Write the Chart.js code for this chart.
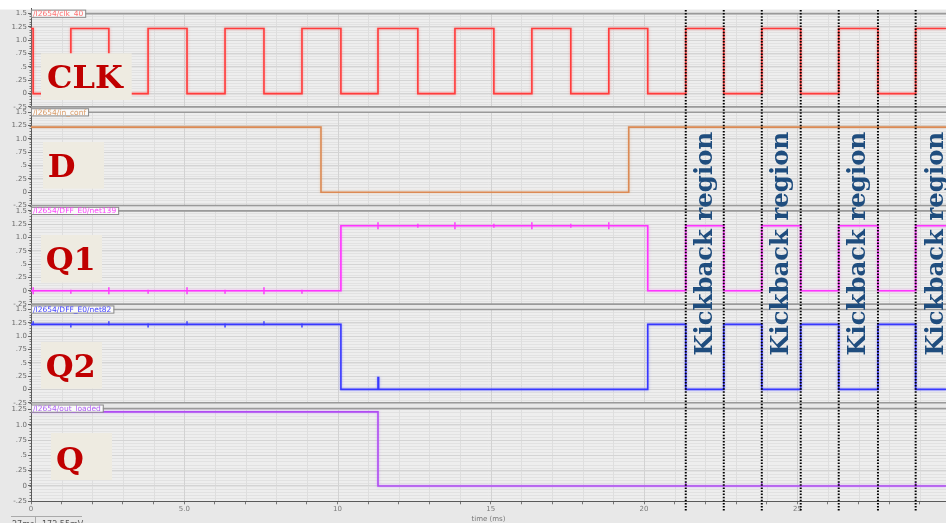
<!DOCTYPE html>
<html><head><meta charset="utf-8">
<script src="https://cdn.jsdelivr.net/npm/chart.js@4.4.1/dist/chart.umd.min.js"></script>
<style>
html,body{margin:0;padding:0;background:#fff;}
#wrap{position:relative;width:946px;height:523px;}
canvas{position:absolute;left:0;top:0;}
</style></head><body>
<div id="wrap"><canvas id="c" width="946" height="523"></canvas></div>
<script>
// ---------- data (times in ms, values in V) ----------
const timeMax = 29.85;
const clkT = [0, 0.07, 1.30, 2.54, 3.82, 5.09, 6.33, 7.60, 8.84, 10.11, 11.32, 12.62, 13.83, 15.10, 16.34, 17.61, 18.85, 20.12, 21.36, 22.60, 23.84, 25.11, 26.35, 27.63, 28.86, 29.85];
const clkV = [1.22,0,1.22,0,1.22,0,1.22,0,1.22,0,1.22,0,1.22,0,1.22,0,1.22,0,1.22,0,1.22,0,1.22,0,1.22,1.22];
const dT = [0, 9.46, 19.50, 29.85];
const dV = [1.22, 0, 1.22, 1.22];
const q1T = [0, 10.11, 20.12, 21.36, 22.60, 23.84, 25.11, 26.35, 27.63, 28.86, 29.85];
const q1V = [0, 1.22, 0, 1.22, 0, 1.22, 0, 1.22, 0, 1.22, 1.22];
const q2T = [0, 10.11, 11.32, 11.34, 20.12, 21.36, 22.60, 23.84, 25.11, 26.35, 27.63, 28.86, 29.85];
const q2V = [1.22, 0, 0.22, 0, 1.22, 0, 1.22, 0, 1.22, 0, 1.22, 0, 0];
const qT = [0, 11.32, 29.85];
const qV = [1.21, 0, 0];
// small glitches
const q1BigSpikeT = [0.07, 2.54, 5.09, 7.60, 11.32, 13.83, 16.34, 18.85];
const q1BigSpikeV = [0, 0, 0, 0, 1.22, 1.22, 1.22, 1.22];
const q1SmallSpikeT = [1.30, 3.82, 6.33, 8.84, 12.62, 15.10, 17.61];
const q1SmallSpikeV = [-0.02, -0.02, -0.02, -0.02, 1.22, 1.22, 1.22];
const q2SpikeT = [0.07, 1.30, 2.54, 3.82, 5.09, 6.33, 7.60, 8.84];
const q2SpikeV = [1.24, 1.20, 1.24, 1.20, 1.24, 1.20, 1.24, 1.20];
const qSpikeT = [21.36, 23.84, 26.35, 28.86];
const qSpikeV = [0.03, 0.03, 0.03, 0.03];
// annotations
const kickLinesT = [21.36, 22.60, 23.84, 25.11, 26.35, 27.63, 28.86];
const kickTextT = [22.22, 24.70, 27.22, 29.75];
const kickText = 'Kickback region';
const signalNames = ['/I2654/clk_40', '/I2654/in_conf', '/I2654/DFF_E0/net139', '/I2654/DFF_E0/net82', '/I2654/out_loaded'];
const signalLabels = ['CLK', 'D', 'Q1', 'Q2', 'Q'];
// ticks
const yTickValues = [-0.25, 0, 0.25, 0.5, 0.75, 1.0, 1.25, 1.5];
const yTickLabels = ['-.25', '0', '.25', '.5', '.75', '1.0', '1.25', '1.5'];
const yTickValuesLast = [-0.25, 0, 0.25, 0.5, 0.75, 1.0, 1.25];
const xTickValues = [0, 5, 10, 15, 20, 25];
const xTickLabels = ['0', '5.0', '10', '15', '20', '25'];

// ---------- styles ----------
const lineColors = ['#ff3c3c', '#db8a55', '#ff35ff', '#3838ff', '#b04cf2'];
const glowColors = ['rgba(255,120,120,0.8)', 'rgba(230,170,120,0.6)', 'rgba(255,130,255,0.8)', 'rgba(130,130,255,0.8)', 'rgba(200,140,255,0.8)'];
const tabColors = ['#ff7070', '#d99a66', '#ff40ff', '#4545ff', '#b060f5'];
const panelTop = [1.5, 1.5, 1.5, 1.5, 1.265];
const panelMax = [1.6, 1.6, 1.6, 1.6, 1.36];
const labelBoxes = [
  {x:41, y:53.3, w:90.7, h:46.7, tx:47, ty:88.3},
  {x:43, y:142, w:61, h:46.7, tx:47.7, ty:176.7},
  {x:41, y:235, w:61, h:47.7, tx:45.7, ty:270},
  {x:41, y:342, w:61, h:46.7, tx:45.7, ty:376.7},
  {x:51, y:433, w:61, h:47, tx:56, ty:470}
];

function pts(T, V){ return T.map((t,i)=>({x:t, y:V[i]})); }
const series = [[clkT, clkV], [dT, dV], [q1T, q1V], [q2T, q2V], [qT, qV]];

const datasets = [];
series.forEach((s, i) => {
  datasets.push({type:'line', data:pts(s[0], s[1]), yAxisID:'y'+i, stepped:true,
    borderColor:lineColors[i], borderWidth:1.6, pointRadius:0, fill:false, glow:glowColors[i]});
});
function spikes(T, V, i, r){
  return {type:'scatter', data:pts(T, V), yAxisID:'y'+i, showLine:false, pointStyle:'line',
    rotation:90, pointRadius:r, pointHoverRadius:r, borderColor:lineColors[i], pointBorderColor:lineColors[i], pointBorderWidth:1.5};
}
datasets.push(spikes(q1BigSpikeT, q1BigSpikeV, 2, 3.5));
datasets.push(spikes(q1SmallSpikeT, q1SmallSpikeV, 2, 2));
datasets.push(spikes(q2SpikeT, q2SpikeV, 3, 2));
datasets.push(spikes(qSpikeT, qSpikeV, 4, 2));

function lookupLabel(v, vals, labs){
  for (let k=0;k<vals.length;k++) if (Math.abs(vals[k]-v) < 1e-6) return labs[k];
  return '';
}

const scales = {
  x: {type:'linear', position:'bottom', min:0, max:timeMax, bounds:'data',
    afterBuildTicks: s => { const a=[]; for (let t=0;t<timeMax;t++) a.push({value:t}); s.ticks=a; },
    afterFit: s => { s.height = 21.7; },
    ticks: {autoSkip:false, maxRotation:0, padding:0.5, color:'#7a7a7a', font:{family:'DejaVu Sans', size:7},
      callback: v => lookupLabel(v, xTickValues, xTickLabels)},
    grid: {display:true, drawOnChartArea:false, drawTicks:true, tickLength:3, tickColor:'#777'},
    border: {display:true, color:'#5a5a5a', width:1},
    title: {display:true, text:'time (ms)', color:'#777', font:{family:'DejaVu Sans', size:7}, padding:{top:0, bottom:0}}
  }
};
for (let i=0;i<5;i++){
  const tv = i<4 ? yTickValues : yTickValuesLast;
  scales['y'+i] = {type:'linear', position:'left', stack:'panels', stackWeight:1, weight:5-i,
    min:-0.25, max:panelMax[i], bounds:'data',
    afterBuildTicks: s => { s.ticks = tv.map(v=>({value:v})); },
    afterFit: s => { s.width = 31; },
    ticks: {autoSkip:false, padding:1, color:'#6a6a6a', font:{family:'DejaVu Sans', size:7},
      callback: v => lookupLabel(v, yTickValues, yTickLabels)},
    grid: {color:'#d4d4d4', lineWidth:1, tickLength:3, tickColor:'#666'},
    border: {display:true, color:'#5a5a5a', width:1}
  };
}

const bgPlugin = {
  id:'bg',
  beforeDraw(chart){
    const {ctx, chartArea:a, scales:sc} = chart;
    ctx.save();
    ctx.fillStyle = '#e8e8e8'; ctx.fillRect(0, 0, chart.width, chart.height);
    ctx.fillStyle = '#ffffff'; ctx.fillRect(0, 0, chart.width, 9.5);
    for (let i=0;i<5;i++){
      const ys = sc['y'+i];
      const top = ys.getPixelForValue(panelTop[i]);
      const bot = ys.getPixelForValue(-0.25);
      ctx.fillStyle = '#eeeeee';
      ctx.fillRect(a.left, top, a.right - a.left, bot - top);
      ctx.strokeStyle = '#e2e2e2'; ctx.lineWidth = 1;
      for (let v=-0.25; v<=panelTop[i]+1e-6; v+=0.05){
        const y = Math.round(ys.getPixelForValue(v)) + 0.5;
        ctx.beginPath(); ctx.moveTo(a.left, y); ctx.lineTo(a.right, y); ctx.stroke();
      }
      for (let t=1; t<timeMax; t++){
        const x = Math.round(sc.x.getPixelForValue(t)) + 0.5;
        ctx.strokeStyle = (t % 5 === 0) ? '#d2d2d2' : '#dedede';
        ctx.beginPath(); ctx.moveTo(x, top); ctx.lineTo(x, bot); ctx.stroke();
      }
      ctx.strokeStyle = '#777';
      for (let v=-0.25; v<=panelTop[i]+1e-6; v+=0.05){
        const y = Math.round(ys.getPixelForValue(v)) + 0.5;
        ctx.beginPath(); ctx.moveTo(a.left-1.5, y); ctx.lineTo(a.left, y); ctx.stroke();
      }
    }
    ctx.restore();
  },
  beforeDatasetDraw(chart, args){
    const ds = chart.data.datasets[args.index];
    chart.ctx.save();
    if (ds.glow){ chart.ctx.shadowColor = ds.glow; chart.ctx.shadowBlur = 2.5; }
  },
  afterDatasetDraw(chart){ chart.ctx.restore(); },
  afterDatasetsDraw(chart){
    const {ctx, chartArea:a, scales:sc} = chart;
    ctx.save();
    ctx.font = '7.5px "DejaVu Sans"';
    for (let i=0;i<5;i++){
      const ys = sc['y'+i];
      const top = ys.getPixelForValue(panelTop[i]);
      const bot = ys.getPixelForValue(-0.25);
      ctx.strokeStyle = '#9a9a9a'; ctx.lineWidth = 1.6;
      if (i < 4){ ctx.beginPath(); ctx.moveTo(a.left, bot); ctx.lineTo(a.right, bot); ctx.stroke(); }
      ctx.beginPath(); ctx.moveTo(a.left, top); ctx.lineTo(a.right, top); ctx.stroke();
      const tw = ctx.measureText(signalNames[i]).width + 4;
      ctx.fillStyle = '#fafafa';
      ctx.fillRect(a.left, top-3.5, tw, 7.2);
      ctx.strokeStyle = '#8a8a8a'; ctx.lineWidth = 1;
      ctx.strokeRect(a.left+0.5, top-3.5, tw, 7.2);
      ctx.fillStyle = tabColors[i]; ctx.textBaseline = 'middle'; ctx.textAlign = 'left';
      ctx.fillText(signalNames[i], a.left+2, top+0.4);
    }
    for (let i=0;i<5;i++){
      const b = labelBoxes[i];
      ctx.fillStyle = '#eeebe1';
      ctx.fillRect(b.x, b.y, b.w, b.h);
      ctx.fillStyle = '#c00000';
      ctx.font = 'bold 32px "DejaVu Serif"';
      ctx.textBaseline = 'alphabetic'; ctx.textAlign = 'left';
      ctx.fillText(signalLabels[i], b.tx, b.ty);
    }
    ctx.strokeStyle = '#000'; ctx.lineWidth = 2; ctx.setLineDash([1.5, 1.6]);
    kickLinesT.forEach(t => {
      const x = sc.x.getPixelForValue(t);
      ctx.beginPath(); ctx.moveTo(x, 10); ctx.lineTo(x, 512); ctx.stroke();
    });
    ctx.setLineDash([]);
    ctx.font = 'bold 27px "DejaVu Serif"';
    const w = ctx.measureText(kickText).width;
    const fs = 27 * 224 / w;
    ctx.font = 'bold ' + fs.toFixed(2) + 'px "DejaVu Serif"';
    ctx.fillStyle = '#1f4d7e';
    kickTextT.forEach(t => {
      const x = sc.x.getPixelForValue(t);
      ctx.save(); ctx.translate(x, 243.8); ctx.rotate(-Math.PI/2);
      ctx.textAlign = 'center'; ctx.textBaseline = 'alphabetic';
      ctx.fillText(kickText, 0, 0);
      ctx.restore();
    });
    ctx.strokeStyle = '#aaa'; ctx.lineWidth = 1;
    ctx.beginPath(); ctx.moveTo(11, 516.5); ctx.lineTo(82, 516.5); ctx.stroke();
    ctx.beginPath(); ctx.moveTo(35.5, 516.5); ctx.lineTo(35.5, 523); ctx.stroke();
    ctx.fillStyle = '#555'; ctx.font = '8px "DejaVu Sans"'; ctx.textBaseline = 'alphabetic'; ctx.textAlign='left';
    ctx.fillText('27ms', 12, 527);
    ctx.fillText('172.55mV', 42, 527);
    ctx.restore();
  }
};

new Chart(document.getElementById('c'), {
  data: {datasets},
  options: {
    responsive:false, devicePixelRatio:1, animation:false,
    layout:{autoPadding:false, padding:{top:8.3, bottom:0, left:0, right:0}},
    plugins:{legend:{display:false}, tooltip:{enabled:false}},
    events:[],
    scales
  },
  plugins:[bgPlugin]
});
</script>
</body></html>
